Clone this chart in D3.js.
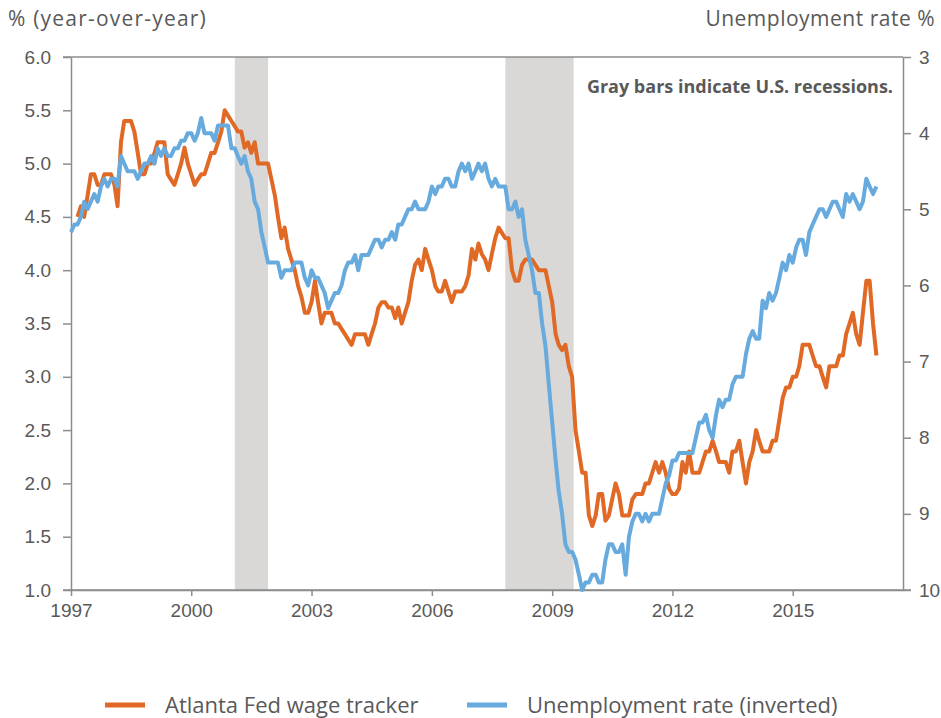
<html>
<head>
<style>
body {
  margin: 0;
  background: white;
}

svg {
  display: block;
  font-family: "Open Sans", sans-serif;
}

.tick text, .lbl {
  fill: #595959;
}

.domain, .tick line {
  stroke: #8c8c8c;
  stroke-width: 1.5px;
}
</style>
</head>
<body>

<script src="https://cdnjs.cloudflare.com/ajax/libs/d3/7.8.5/d3.min.js"></script>
<script>
// unemployment rate, monthly from Jan 1997
var unempStart = new Date(1997, 0, 1)
var unemp = [
  5.3, 5.2, 5.2, 5.1, 4.9, 5.0, 4.9, 4.8, 4.9, 4.7, 4.6, 4.7,
  4.6, 4.6, 4.7, 4.3, 4.4, 4.5, 4.5, 4.5, 4.6, 4.5, 4.4, 4.4,
  4.3, 4.4, 4.2, 4.3, 4.2, 4.3, 4.3, 4.2, 4.2, 4.1, 4.1, 4.0,
  4.0, 4.1, 4.0, 3.8, 4.0, 4.0, 4.0, 4.1, 3.9, 3.9, 3.9, 3.9,
  4.2, 4.2, 4.3, 4.4, 4.3, 4.5, 4.6, 4.9, 5.0, 5.3, 5.5, 5.7,
  5.7, 5.7, 5.7, 5.9, 5.8, 5.8, 5.8, 5.7, 5.7, 5.7, 5.9, 6.0,
  5.8, 5.9, 5.9, 6.0, 6.1, 6.3, 6.2, 6.1, 6.1, 6.0, 5.8, 5.7,
  5.7, 5.6, 5.8, 5.6, 5.6, 5.6, 5.5, 5.4, 5.4, 5.5, 5.4, 5.4,
  5.3, 5.4, 5.2, 5.2, 5.1, 5.0, 5.0, 4.9, 5.0, 5.0, 5.0, 4.9,
  4.7, 4.8, 4.7, 4.7, 4.6, 4.6, 4.7, 4.7, 4.5, 4.4, 4.5, 4.4,
  4.6, 4.5, 4.4, 4.5, 4.4, 4.6, 4.7, 4.6, 4.7, 4.7, 4.7, 5.0,
  5.0, 4.9, 5.1, 5.0, 5.4, 5.6, 5.8, 6.1, 6.1, 6.5, 6.8, 7.3,
  7.8, 8.3, 8.7, 9.0, 9.4, 9.5, 9.5, 9.6, 9.8, 10.0, 9.9, 9.9,
  9.8, 9.8, 9.9, 9.9, 9.6, 9.4, 9.4, 9.5, 9.5, 9.4, 9.8, 9.3,
  9.1, 9.0, 9.0, 9.1, 9.0, 9.1, 9.0, 9.0, 9.0, 8.8, 8.6, 8.5,
  8.3, 8.3, 8.2, 8.2, 8.2, 8.2, 8.2, 8.0, 7.8, 7.8, 7.7, 7.9,
  8.0, 7.7, 7.5, 7.6, 7.5, 7.5, 7.3, 7.2, 7.2, 7.2, 6.9, 6.7,
  6.6, 6.7, 6.7, 6.2, 6.3, 6.1, 6.2, 6.1, 5.9, 5.7, 5.8, 5.6,
  5.7, 5.5, 5.4, 5.4, 5.6, 5.3, 5.2, 5.1, 5.0, 5.0, 5.1, 5.0,
  4.9, 4.9, 5.0, 5.1, 4.8, 4.9, 4.8, 4.9, 5.0, 4.9, 4.6, 4.7,
  4.8, 4.7
]

// Atlanta Fed wage growth tracker, monthly from Mar 1997
var wageStart = new Date(1997, 2, 1)
var wage = [
            4.5, 4.6, 4.5, 4.7, 4.9, 4.9, 4.8, 4.8, 4.9, 4.9,
  4.9, 4.8, 4.6, 5.2, 5.4, 5.4, 5.4, 5.3, 5.1, 4.9, 4.9, 5.0,
  5.0, 5.1, 5.2, 5.2, 5.2, 4.9, 4.85, 4.8, 4.9, 5.0, 5.15, 5.0,
  4.9, 4.8, 4.85, 4.9, 4.9, 5.0, 5.1, 5.1, 5.2, 5.3, 5.5, 5.45,
  5.4, 5.35, 5.3, 5.3, 5.15, 5.2, 5.1, 5.2, 5.0, 5.0, 5.0, 5.0,
  4.85, 4.7, 4.5, 4.3, 4.4, 4.2, 4.1, 4.0, 3.85, 3.75, 3.6, 3.6,
  3.7, 3.9, 3.7, 3.5, 3.6, 3.6, 3.6, 3.5, 3.5, 3.45, 3.4, 3.35,
  3.3, 3.4, 3.4, 3.4, 3.4, 3.3, 3.4, 3.5, 3.65, 3.7, 3.7, 3.65,
  3.65, 3.55, 3.65, 3.5, 3.6, 3.7, 3.9, 4.05, 4.1, 4.0, 4.2, 4.1,
  4.0, 3.85, 3.8, 3.8, 3.9, 3.8, 3.7, 3.8, 3.8, 3.8, 3.85, 3.95,
  4.2, 4.1, 4.25, 4.15, 4.1, 4.0, 4.15, 4.3, 4.4, 4.35, 4.3, 4.3,
  4.0, 3.9, 3.9, 4.05, 4.1, 4.1, 4.1, 4.05, 4.0, 4.0, 4.0, 3.85,
  3.7, 3.4, 3.3, 3.25, 3.3, 3.1, 3.0, 2.5, 2.3, 2.1, 2.1, 1.7,
  1.6, 1.7, 1.9, 1.9, 1.65, 1.7, 1.85, 2.0, 1.9, 1.7, 1.7, 1.7,
  1.85, 1.9, 1.9, 1.9, 2.0, 2.0, 2.1, 2.2, 2.1, 2.2, 2.1, 1.95,
  1.9, 1.9, 1.95, 2.2, 2.1, 2.3, 2.1, 2.1, 2.1, 2.2, 2.3, 2.3,
  2.4, 2.3, 2.2, 2.2, 2.2, 2.1, 2.3, 2.3, 2.4, 2.2, 2.0, 2.2,
  2.3, 2.5, 2.4, 2.3, 2.3, 2.3, 2.4, 2.4, 2.6, 2.8, 2.9, 2.9,
  3.0, 3.0, 3.1, 3.3, 3.3, 3.3, 3.2, 3.1, 3.1, 3.0, 2.9, 3.1,
  3.1, 3.1, 3.2, 3.2, 3.4, 3.5, 3.6, 3.4, 3.3, 3.6, 3.9, 3.9,
  3.5, 3.2
]

var recessions = [
  [new Date(2001, 1, 1), new Date(2001, 11, 1)],
  [new Date(2007, 10, 1), new Date(2009, 6, 15)]
]

var yearTicks = [1997, 2000, 2003, 2006, 2009, 2012, 2015]
var leftTicks = [1.0, 1.5, 2.0, 2.5, 3.0, 3.5, 4.0, 4.5, 5.0, 5.5, 6.0]
var rightTicks = [3, 4, 5, 6, 7, 8, 9, 10]

var width = 941,
    height = 718,
    plotLeft = 71,
    plotRight = 903,
    plotTop = 57,
    plotBottom = 590;

var orange = "#e06926",
    blue = "#67aade";

var svg = d3.select("body")
  .append("svg")
  .attr("width", width)
  .attr("height", height)

var x = d3.scaleTime()
  .domain([new Date(1997, 0, 1), new Date(2017, 9, 1)])
  .range([plotLeft, plotRight])

var yLeft = d3.scaleLinear().domain([1, 6]).range([plotBottom, plotTop])
var yRight = d3.scaleLinear().domain([3, 10]).range([plotTop, plotBottom])

function monthly(start, values) {
  return values.map(function(v, i) {
    return { date: d3.timeMonth.offset(start, i), value: v }
  })
}

// recession bars
svg.selectAll(".rec")
  .data(recessions)
  .enter().append("rect")
  .attr("class", "rec")
  .attr("x", function(d) { return x(d[0]) })
  .attr("width", function(d) { return x(d[1]) - x(d[0]) })
  .attr("y", plotTop)
  .attr("height", plotBottom - plotTop)
  .attr("fill", "#d9d8d7")

// axes
svg.append("g")
  .attr("transform", "translate(" + plotLeft + ",0)")
  .call(d3.axisLeft(yLeft).tickValues(leftTicks).tickFormat(d3.format(".1f")).tickSize(8).tickSizeOuter(0).tickPadding(12))

svg.append("g")
  .attr("transform", "translate(" + plotRight + ",0)")
  .call(d3.axisRight(yRight).tickValues(rightTicks).tickFormat(d3.format("d")).tickSize(8).tickSizeOuter(0).tickPadding(8))

svg.append("g")
  .attr("transform", "translate(0," + plotBottom + ")")
  .call(d3.axisBottom(x)
    .tickValues(yearTicks.map(function(y) { return new Date(y, 0, 1) }))
    .tickFormat(d3.timeFormat("%Y"))
    .tickSize(6).tickSizeOuter(0).tickPadding(8))

svg.append("line")
  .attr("x1", plotLeft - 8).attr("x2", plotRight)
  .attr("y1", plotTop).attr("y2", plotTop)
  .attr("stroke", "#8c8c8c")
  .attr("stroke-width", 1.5)

svg.append("line")
  .attr("x1", plotLeft - 8).attr("x2", plotRight + 8)
  .attr("y1", plotBottom).attr("y2", plotBottom)
  .attr("stroke", "#8c8c8c")
  .attr("stroke-width", 1.5)

svg.selectAll(".tick text").style("font-size", "19px")

// lines
var wageLine = d3.line()
  .x(function(d) { return x(d.date) })
  .y(function(d) { return yLeft(d.value) })

var unempLine = d3.line()
  .x(function(d) { return x(d.date) })
  .y(function(d) { return yRight(d.value) })

svg.append("path")
  .datum(monthly(wageStart, wage))
  .attr("d", wageLine)
  .attr("fill", "none")
  .attr("stroke", orange)
  .attr("stroke-width", 4)
  .attr("stroke-linejoin", "round")

svg.append("path")
  .datum(monthly(unempStart, unemp))
  .attr("d", unempLine)
  .attr("fill", "none")
  .attr("stroke", blue)
  .attr("stroke-width", 4)
  .attr("stroke-linejoin", "round")

// titles
svg.append("text")
  .attr("class", "lbl")
  .attr("x", 8).attr("y", 26)
  .style("font-size", "21px")
  .style("letter-spacing", "1.2px")
  .text("% (year-over-year)")

svg.append("text")
  .attr("class", "lbl")
  .attr("x", 935).attr("y", 26)
  .attr("text-anchor", "end")
  .style("font-size", "21px")
  .style("letter-spacing", "0.5px")
  .text("Unemployment rate %")

svg.append("text")
  .attr("class", "lbl")
  .attr("x", 893).attr("y", 93)
  .attr("text-anchor", "end")
  .style("font-size", "18px")
  .style("font-weight", "bold")
  .text("Gray bars indicate U.S. recessions.")

// legend
var legend = [
  { name: "Atlanta Fed wage tracker", color: orange, x: 105 },
  { name: "Unemployment rate (inverted)", color: blue, x: 467 }
]

var items = svg.selectAll(".legend")
  .data(legend)
  .enter().append("g")
  .attr("class", "legend")
  .attr("transform", function(d) { return "translate(" + d.x + ",705)" })

items.append("line")
  .attr("x1", 0).attr("x2", 40)
  .attr("stroke", function(d) { return d.color })
  .attr("stroke-width", 5)

items.append("text")
  .attr("class", "lbl")
  .attr("x", 60).attr("dy", "0.35em")
  .style("font-size", "22px")
  .text(function(d) { return d.name })
</script>
</body>
</html>
